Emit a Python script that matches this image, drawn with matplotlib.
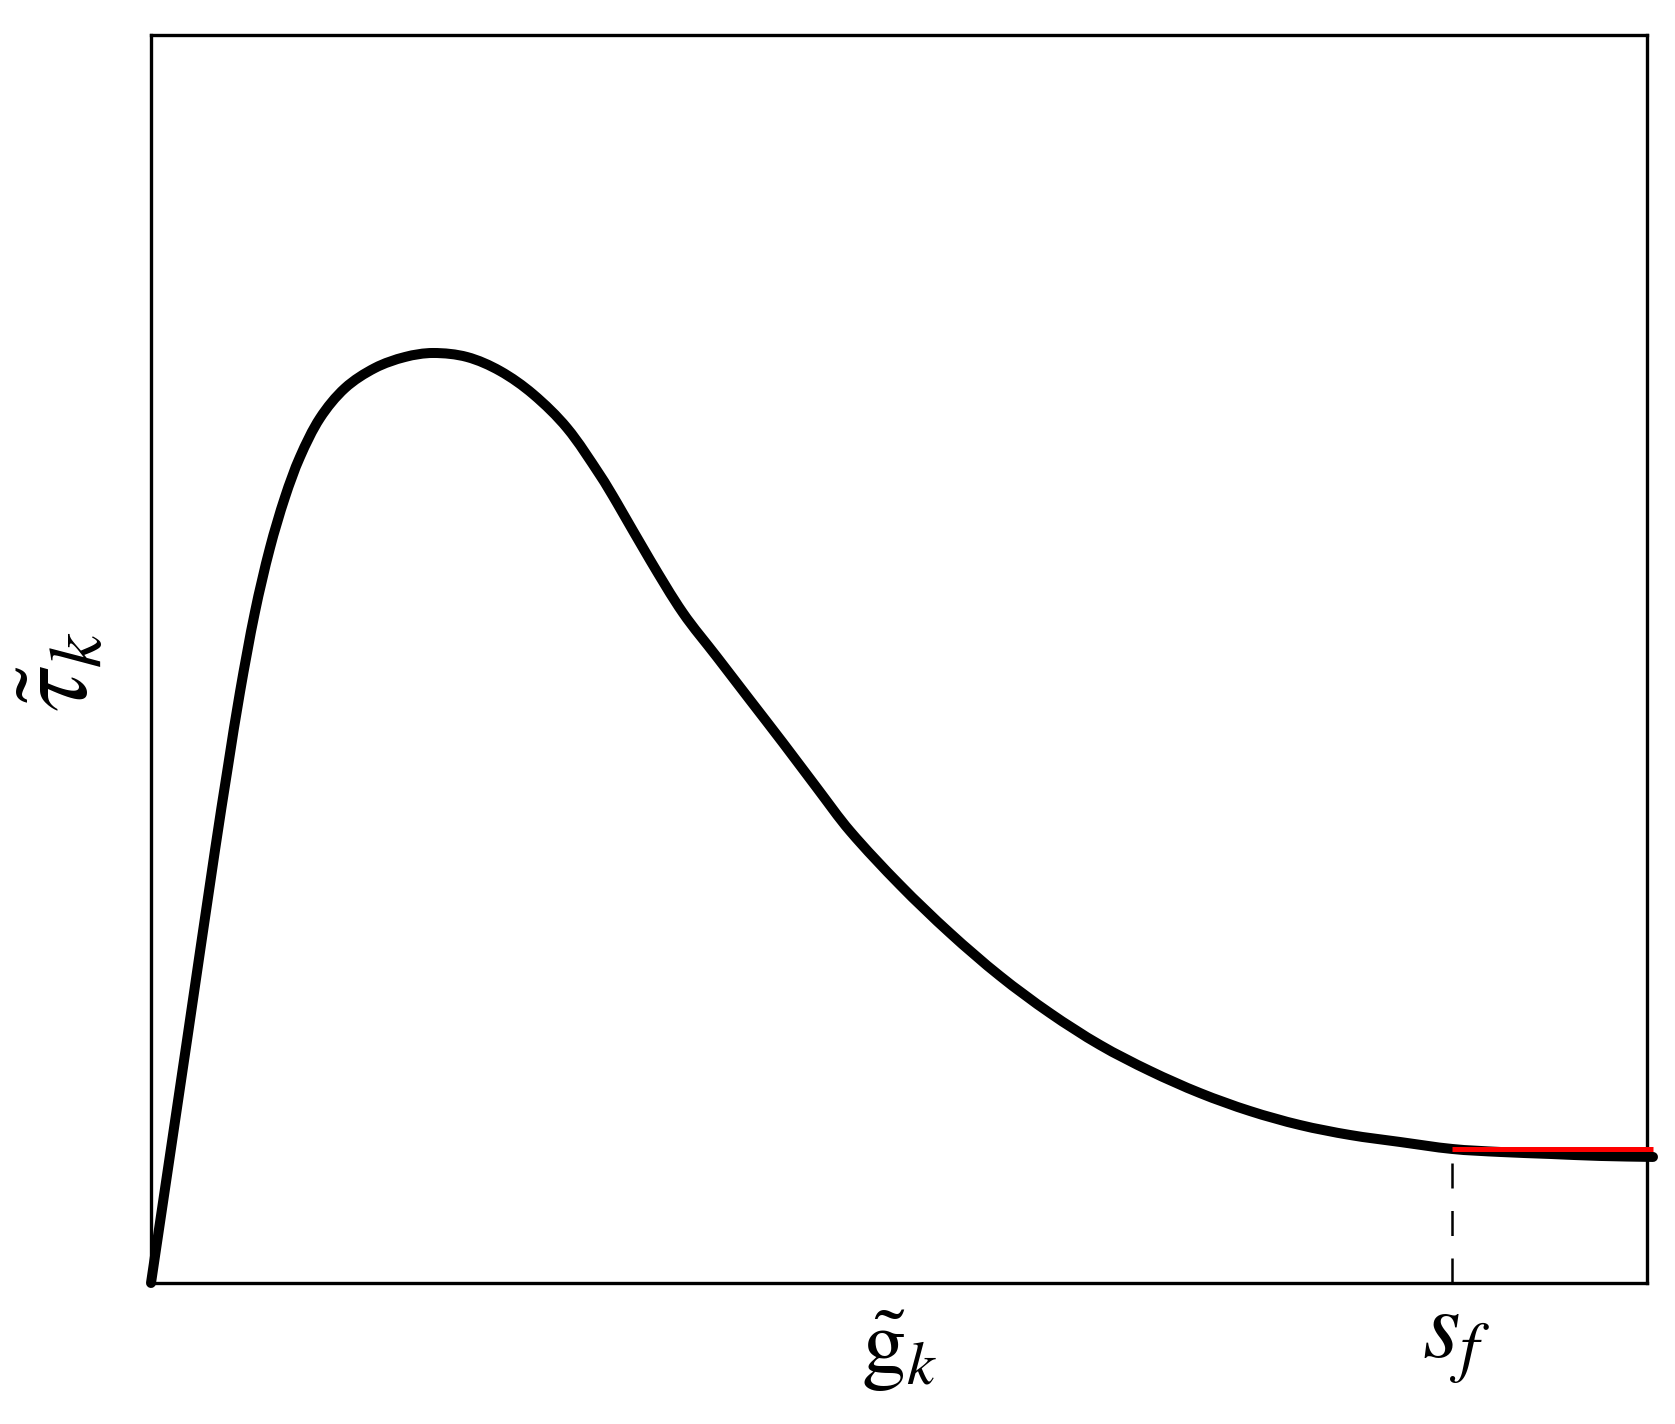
import matplotlib
matplotlib.use("Agg")
import matplotlib.pyplot as plt
from matplotlib.path import Path
from matplotlib.patches import PathPatch
import numpy as np

plt.rcParams['mathtext.fontset'] = 'stix'
plt.rcParams['font.family'] = ['STIXGeneral', 'DejaVu Serif']

# curve (axes fractions)
g_vals = [0.0000, 0.0241, 0.0428, 0.0515, 0.0595, 0.0695, 0.0795, 0.0896, 0.0996,
          0.1130, 0.1297, 0.1497, 0.1698, 0.1885, 0.2112, 0.2333, 0.2553, 0.2781,
          0.3001, 0.3115, 0.3336, 0.3556, 0.3783, 0.4004, 0.4225, 0.4452, 0.4672,
          0.5007, 0.5341, 0.5675, 0.6009, 0.6344, 0.6678, 0.7012, 0.7346, 0.7680,
          0.8015, 0.8349, 0.8697, 0.9017, 0.9352, 0.9686, 1.0040]
tau_vals = [0.0000, 0.1947, 0.3470, 0.4143, 0.4736, 0.5377, 0.5889, 0.6298, 0.6619,
            0.6931, 0.7171, 0.7332, 0.7420, 0.7452, 0.7420, 0.7308, 0.7123, 0.6851,
            0.6474, 0.6250, 0.5793, 0.5369, 0.5016, 0.4671, 0.4327, 0.3966, 0.3622,
            0.3189, 0.2804, 0.2460, 0.2163, 0.1907, 0.1699, 0.1522, 0.1378, 0.1266,
            0.1186, 0.1130, 0.1074, 0.1050, 0.1034, 0.1018, 0.1010]
s_f = 0.8697
tau_res = 0.1074
red_x = [s_f, 1.004]
red_y = [tau_res, tau_res]

fig = plt.figure(figsize=(16.75, 14.24), dpi=100)
ax = fig.add_axes([151/1675, 1 - 1283/1424, (1647-151)/1675, (1283-35)/1424])
ax.set_xlim(0, 1)
ax.set_ylim(0, 1)


def smooth_path(xs, ys, sx=1496.0, sy=1248.0):
    """Bezier path passing through the given points (chord-length Catmull-Rom)."""
    P = np.column_stack([xs, ys]).astype(float)
    n = len(P)
    S = P * np.array([sx, sy])
    d = np.hypot(*(np.diff(S, axis=0).T))
    T = np.zeros_like(P)
    for i in range(n):
        if i == 0:
            T[i] = (P[1] - P[0]) / d[0]
        elif i == n - 1:
            T[i] = (P[-1] - P[-2]) / d[-1]
        else:
            T[i] = (P[i + 1] - P[i - 1]) / (d[i - 1] + d[i])
    verts = [tuple(P[0])]
    codes = [Path.MOVETO]
    for i in range(n - 1):
        c1 = P[i] + T[i] * d[i] / 3.0
        c2 = P[i + 1] - T[i + 1] * d[i] / 3.0
        verts += [tuple(c1), tuple(c2), tuple(P[i + 1])]
        codes += [Path.CURVE4] * 3
    return Path(verts, codes)


curve = PathPatch(smooth_path(g_vals, tau_vals), facecolor='none', edgecolor='black',
                  lw=7.2, capstyle='round', joinstyle='round', clip_on=False, zorder=3)
ax.add_patch(curve)
ax.plot(red_x, red_y, color='#ff0000', lw=3.6, solid_capstyle='butt',
        clip_on=False, zorder=4)
ax.plot([s_f, s_f], [0, tau_res], color='black', lw=1.8, dashes=(10, 9), zorder=2)

ax.set_xticks([])
ax.set_yticks([])
for sp in ax.spines.values():
    sp.set_linewidth(2.4)
    sp.set_color('black')

ax.text(0.5, -0.020, r'$\tilde{\mathrm{g}}_{k}$', transform=ax.transAxes,
        ha='center', va='top', fontsize=64)
ax.text(s_f + 0.003, -0.012, r'$s_f$', transform=ax.transAxes,
        ha='center', va='top', fontsize=70)
ax.text(-0.058, 0.49, r'$\tilde{\tau}_k$', transform=ax.transAxes,
        ha='center', va='center', fontsize=76, rotation=90)

fig.savefig('out.png', dpi=100, facecolor='white')
